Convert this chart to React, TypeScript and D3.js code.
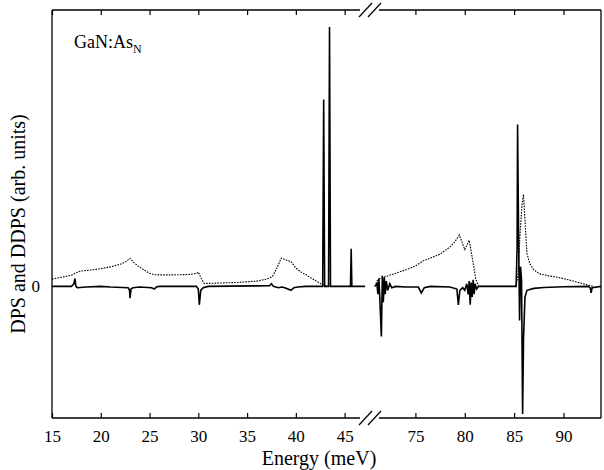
import React, { useEffect, useRef } from 'react';
import * as d3 from 'd3';

// DPS (dotted) - low-energy window
const dpsLowE = [15.0, 16.0, 17.0, 17.6, 18.0, 19.0, 20.0, 21.0, 22.0, 22.6, 23.0, 23.4, 24.0, 25.0, 25.5, 27.0, 29.0, 29.8, 30.0, 30.3, 30.6, 32.0, 34.0, 36.0, 37.0, 37.6, 38.0, 38.5, 39.0, 39.5, 40.0, 40.5, 41.0, 41.5, 42.0, 42.5, 43.0, 43.3];
const dpsLowV = [0.055, 0.07, 0.085, 0.108, 0.117, 0.125, 0.135, 0.148, 0.168, 0.19, 0.214, 0.18, 0.145, 0.1, 0.088, 0.087, 0.09, 0.098, 0.108, 0.06, 0.022, 0.025, 0.03, 0.04, 0.055, 0.075, 0.13, 0.215, 0.2, 0.188, 0.14, 0.11, 0.09, 0.066, 0.045, 0.022, 0.005, 0];

// DPS (dotted) - high-energy window
const dpsHighE = [70.9, 71.1, 71.4, 72.0, 73.0, 74.0, 75.0, 75.8, 76.5, 77.5, 78.5, 79.0, 79.45, 80.0, 80.45, 80.8, 81.1, 81.4, 85.2, 85.4, 85.6, 85.8, 85.95, 86.1, 86.3, 86.6, 87.0, 87.6, 88.5, 89.5, 90.5, 91.5, 92.5, 93.0];
const dpsHighV = [0, 0.04, 0.06, 0.075, 0.1, 0.125, 0.155, 0.195, 0.215, 0.245, 0.3, 0.34, 0.39, 0.28, 0.35, 0.2, 0.06, 0, 0, 0.1, 0.4, 0.62, 0.7, 0.5, 0.25, 0.17, 0.125, 0.095, 0.08, 0.068, 0.05, 0.03, 0.01, 0];

// DDPS (solid) - low-energy window
const ddpsLowE = [15.0, 17.0, 17.25, 17.35, 17.45, 17.6, 18.5, 20.0, 21.0, 22.8, 22.95, 23.0, 23.1, 23.3, 24.0, 25.2, 25.5, 25.7, 26.0, 29.8, 30.0, 30.1, 30.25, 30.5, 31.0, 37.3, 37.5, 37.7, 38.2, 38.6, 39.0, 39.5, 39.8, 40.2, 41.0, 42.75, 42.85, 42.95, 43.35, 43.45, 43.55, 45.6, 45.67, 45.74, 47.1];
const ddpsLowV = [0, 0, 0.02, 0.06, 0, -0.01, -0.005, 0, -0.005, -0.01, -0.03, -0.09, -0.02, -0.01, -0.005, -0.01, -0.02, -0.005, 0, 0, -0.02, -0.14, -0.03, -0.01, 0, 0.005, 0.02, 0, -0.01, -0.005, -0.015, -0.03, -0.01, -0.005, 0, 0, 1.42, 0, 0, 1.97, 0, 0, 0.285, 0, 0];

// DDPS (solid) - high-energy window
const ddpsHighE = [70.9, 71.1, 71.2, 71.3, 71.4, 71.55, 71.65, 71.75, 71.85, 71.95, 72.05, 72.2, 72.4, 72.6, 73.0, 74.0, 75.3, 75.6, 75.9, 76.5, 78.5, 79.2, 79.35, 79.5, 79.8, 80.0, 80.2, 80.35, 80.45, 80.55, 80.65, 80.75, 80.85, 80.95, 81.05, 81.2, 81.4, 85.2, 85.3, 85.35, 85.45, 85.55, 85.65, 85.75, 85.86, 85.95, 86.1, 86.3, 87.0, 88.0, 90.0, 92.5, 92.7, 92.8, 92.9, 93.8];
const ddpsHighV = [0, 0.02, -0.06, 0.06, -0.1, -0.38, 0.08, -0.12, 0.07, -0.06, 0.04, -0.03, 0.02, -0.01, 0, -0.005, -0.005, -0.05, -0.01, 0, -0.005, -0.02, -0.14, -0.03, -0.01, -0.03, 0.02, -0.06, 0.04, -0.14, 0.03, -0.08, 0.05, -0.06, 0.02, -0.02, 0, 0, 0.3, 1.23, 0.4, -0.26, 0.15, 0.05, -0.97, -0.4, -0.08, -0.03, -0.015, -0.008, -0.003, 0, -0.01, -0.05, -0.01, 0];

const xTicks = [15, 20, 25, 30, 35, 40, 45, 75, 80, 85, 90];
const yTicks = [0];

export default function App() {
  const svgRef = useRef<SVGSVGElement | null>(null);

  const width = 604;
  const height = 470;
  const plot = { left: 52, right: 601, top: 10, bottom: 418 };
  const breakX = 370;

  useEffect(() => {
    const svg = d3.select(svgRef.current);
    svg.selectAll('*').remove();

    // broken axis: two windows glued at breakX
    const x = d3.scaleLinear()
      .domain([15, 47.6, 70.4, 93.8])
      .range([plot.left, breakX, breakX, plot.right]);
    const y = d3.scaleLinear().domain([-1, 2.1]).range([plot.bottom, plot.top]);

    const line = d3.line<[number, number]>()
      .x(d => x(d[0]))
      .y(d => y(d[1]));

    const zip = (e: number[], v: number[]) => e.map((d, i) => [d, v[i]] as [number, number]);

    const g = svg.append('g');

    // dotted DPS
    [zip(dpsLowE, dpsLowV), zip(dpsHighE, dpsHighV)].forEach(pts => {
      g.append('path')
        .attr('d', line(pts))
        .attr('fill', 'none')
        .attr('stroke', '#000')
        .attr('stroke-width', 1.1)
        .attr('stroke-dasharray', '1.6,1.2');
    });

    // solid DDPS
    [zip(ddpsLowE, ddpsLowV), zip(ddpsHighE, ddpsHighV)].forEach(pts => {
      g.append('path')
        .attr('d', line(pts))
        .attr('fill', 'none')
        .attr('stroke', '#000')
        .attr('stroke-width', 1.6)
        .attr('stroke-linejoin', 'miter');
    });

    const font = '"Liberation Serif", "Times New Roman", serif';

    // frame with gaps at the break
    const frame = svg.append('g').attr('stroke', '#000').attr('stroke-width', 1.3).attr('fill', 'none');
    const gapL = breakX - 10;
    const gapR = breakX + 9;
    [plot.top, plot.bottom].forEach(yy => {
      frame.append('line').attr('x1', plot.left).attr('x2', gapL).attr('y1', yy).attr('y2', yy);
      frame.append('line').attr('x1', gapR).attr('x2', plot.right).attr('y1', yy).attr('y2', yy);
      // break marks
      [-4, 5].forEach(off => {
        frame.append('line')
          .attr('x1', breakX + off - 7).attr('y1', yy + 7)
          .attr('x2', breakX + off + 6).attr('y2', yy - 7)
          .attr('stroke-width', 1.2);
      });
    });
    frame.append('line').attr('x1', plot.left).attr('x2', plot.left).attr('y1', plot.top).attr('y2', plot.bottom);
    frame.append('line').attr('x1', plot.right).attr('x2', plot.right).attr('y1', plot.top).attr('y2', plot.bottom);

    // bottom axis (ticks pointing inward)
    const bottom = svg.append('g')
      .attr('transform', `translate(0,${plot.bottom})`)
      .call(d3.axisBottom(x).tickValues(xTicks).tickSizeInner(-5).tickSizeOuter(0).tickPadding(12));
    bottom.select('.domain').remove();
    bottom.selectAll('line').attr('stroke-width', 1.2);
    bottom.selectAll('text').attr('font-family', font).attr('font-size', 17).attr('fill', '#000');

    // top axis, ticks only
    const top = svg.append('g')
      .attr('transform', `translate(0,${plot.top})`)
      .call(d3.axisTop(x).tickValues(xTicks).tickSizeInner(-5).tickSizeOuter(0).tickFormat(() => ''));
    top.select('.domain').remove();
    top.selectAll('line').attr('stroke-width', 1.2);

    // left axis: only the zero label
    const left = svg.append('g')
      .attr('transform', `translate(${plot.left},0)`)
      .call(d3.axisLeft(y).tickValues(yTicks).tickSize(0).tickPadding(12).tickFormat(d3.format('d')));
    left.select('.domain').remove();
    left.selectAll('text').attr('font-family', font).attr('font-size', 17).attr('fill', '#000');

    // axis titles
    svg.append('text')
      .attr('x', 319)
      .attr('y', 465)
      .attr('text-anchor', 'middle')
      .attr('font-family', font)
      .attr('font-size', 20)
      .text('Energy (meV)');

    svg.append('text')
      .attr('transform', `translate(25,${224}) rotate(-90)`)
      .attr('text-anchor', 'middle')
      .attr('font-family', font)
      .attr('font-size', 20)
      .text('DPS and DDPS (arb. units)');

    // sample label
    const lab = svg.append('text')
      .attr('x', 74)
      .attr('y', 48)
      .attr('font-family', font)
      .attr('font-size', 18);
    lab.append('tspan').text('GaN:As');
    lab.append('tspan').attr('font-size', 12).attr('dy', 5).text('N');
  });

  return (
    <svg
      ref={svgRef}
      width={width}
      height={height}
      viewBox={`0 0 ${width} ${height}`}
      style={{ position: 'absolute', left: 0, top: 0, background: '#fff' }}
    />
  );
}
